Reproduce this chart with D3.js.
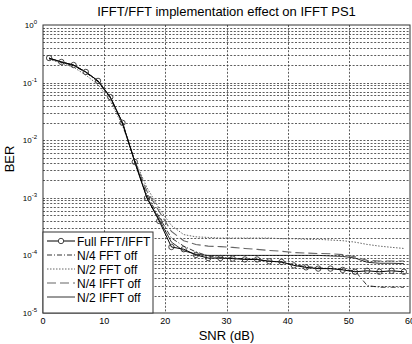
<!DOCTYPE html>
<html>
<head>
<meta charset="utf-8">
<script src="https://cdn.jsdelivr.net/npm/d3@7"></script>
<style>
  body { margin: 0; background: #fff; }
  text { font-family: "Liberation Sans", Arial, sans-serif; }
</style>
</head>
<body>
<svg id="graph" width="412" height="344"></svg>
<script>
// SNR points (dB)
var snr = [1,3,5,7,9,11,13,15,17,19,21,23,25,27,29,31,33,35,37,39,41,43,45,47,49,51,53,55,57,59];

var fullFft = [0.267,0.228,0.202,0.153,0.107,0.056,0.020,0.0042,0.00099,3.96e-4,1.4e-4,1.28e-4,1.02e-4,9.0e-5,9.0e-5,8.8e-5,8.5e-5,8.5e-5,7.9e-5,7.7e-5,6.7e-5,6.2e-5,5.9e-5,5.9e-5,5.6e-5,5.2e-5,5.4e-5,5.2e-5,5.4e-5,5.2e-5];
var n4FftOff = [0.262,0.225,0.198,0.150,0.103,0.054,0.019,0.0043,0.0011,4.6e-4,2.0e-4,1.45e-4,1.15e-4,9.8e-5,9.3e-5,9.0e-5,8.7e-5,8.4e-5,8.0e-5,7.6e-5,6.9e-5,6.4e-5,6.1e-5,5.9e-5,5.7e-5,5.4e-5,3.0e-5,2.8e-5,2.8e-5,2.8e-5];
var n2FftOff = [0.255,0.218,0.185,0.135,0.092,0.048,0.018,0.0045,0.0015,6.5e-4,3.3e-4,2.3e-4,2.1e-4,2.05e-4,2.0e-4,2.0e-4,2.0e-4,2.0e-4,2.0e-4,1.95e-4,1.95e-4,1.9e-4,1.9e-4,1.85e-4,1.8e-4,1.7e-4,1.55e-4,1.45e-4,1.38e-4,1.32e-4];
var n4IfftOff = [0.265,0.227,0.200,0.152,0.106,0.056,0.020,0.0044,0.0013,5.8e-4,2.6e-4,1.8e-4,1.55e-4,1.45e-4,1.42e-4,1.38e-4,1.32e-4,1.27e-4,1.22e-4,1.18e-4,1.12e-4,1.1e-4,1.08e-4,1.07e-4,1.03e-4,9.5e-5,8.2e-5,8.0e-5,8.0e-5,8.0e-5];
var n2IfftOff = [0.266,0.228,0.201,0.153,0.107,0.056,0.020,0.0042,0.0010,4.2e-4,1.7e-4,1.2e-4,1.05e-4,1.0e-4,1.0e-4,1.0e-4,1.0e-4,1.0e-4,1.0e-4,1.0e-4,1.0e-4,1.0e-4,1.0e-4,9.8e-5,9.6e-5,9.0e-5,7.6e-5,7.3e-5,7.3e-5,7.2e-5];

var seriesNames = ["Full FFT/IFFT","N/4 FFT off","N/2 FFT off","N/4 IFFT off","N/2 IFFT off"];
var seriesData = [fullFft, n4FftOff, n2FftOff, n4IfftOff, n2IfftOff];

var xTicks = [0,10,20,30,40,50,60];
var yExps = [0,-1,-2,-3,-4,-5];

var titleText = "IFFT/FFT implementation effect on IFFT PS1";
var xLabel = "SNR (dB)";
var yLabel = "BER";

// line styles per series
var styles = [
  {stroke: "#000", dash: null, width: 1, marker: true},
  {stroke: "#000", dash: "5,2,1,2", width: 0.8, marker: false},
  {stroke: "#555", dash: "1.5,1.5", width: 0.9, marker: false},
  {stroke: "#666", dash: "9,4", width: 1.1, marker: false},
  {stroke: "#000", dash: null, width: 0.8, marker: false}
];

var margin = {top: 25, right: 2, bottom: 31, left: 43};
var width = 412 - margin.left - margin.right;
var height = 344 - margin.top - margin.bottom;

var svg = d3.select("#graph")
  .append("g")
  .attr("transform", "translate(" + margin.left + "," + margin.top + ")");

var xScale = d3.scaleLinear().domain([0, 60]).range([0, width]);
var yScale = d3.scaleLog().domain([1e-5, 1]).range([height, 0]);

// grid
var minorVals = [];
for (var e = -5; e < 0; e++) {
  for (var m = 2; m <= 9; m++) minorVals.push(m * Math.pow(10, e));
}
var gridY = minorVals.concat(yExps.slice(1, 5).map(function(d){ return Math.pow(10, d); }));
svg.selectAll(".hgrid").data(gridY).enter().append("line")
  .attr("x1", 0).attr("x2", width)
  .attr("y1", function(d){ return Math.round(yScale(d)) + 0.5; })
  .attr("y2", function(d){ return Math.round(yScale(d)) + 0.5; })
  .attr("stroke", "#333").attr("stroke-width", 0.8)
  .attr("stroke-dasharray", "2,1.6");
svg.selectAll(".vgrid").data(xTicks.slice(1, 6)).enter().append("line")
  .attr("y1", 0).attr("y2", height)
  .attr("x1", function(d){ return Math.round(xScale(d)) + 0.5; })
  .attr("x2", function(d){ return Math.round(xScale(d)) + 0.5; })
  .attr("stroke", "#333").attr("stroke-width", 0.8)
  .attr("stroke-dasharray", "2,1.6");

// box
svg.append("rect").attr("x", 0).attr("y", 0).attr("width", width).attr("height", height)
  .attr("fill", "none").attr("stroke", "#333").attr("stroke-width", 1);

// ticks
svg.selectAll(".xt").data(xTicks).enter().append("text")
  .attr("x", function(d){ return xScale(d); })
  .attr("y", height + 11)
  .attr("text-anchor", "middle")
  .attr("font-size", 9)
  .text(function(d){ return d; });

var yt = svg.selectAll(".yt").data(yExps).enter().append("text")
  .attr("x", -6)
  .attr("y", function(d){ return yScale(Math.pow(10, d)) + 3; })
  .attr("text-anchor", "end")
  .attr("font-size", 8);
yt.append("tspan").text("10");
yt.append("tspan").attr("dy", -4).attr("font-size", 6).text(function(d){ return d; });

// titles
svg.append("text").attr("x", width / 2).attr("y", -9)
  .attr("text-anchor", "middle").attr("font-size", 13).text(titleText);
svg.append("text").attr("x", width / 2).attr("y", height + 27)
  .attr("text-anchor", "middle").attr("font-size", 13).text(xLabel);
svg.append("text")
  .attr("transform", "translate(" + (-29) + "," + (height / 2 - 10) + ") rotate(-90)")
  .attr("text-anchor", "middle").attr("font-size", 13).text(yLabel);

// lines
var line = d3.line()
  .x(function(d){ return xScale(d[0]); })
  .y(function(d){ return yScale(d[1]); });

var drawOrder = [4, 3, 2, 1, 0];
drawOrder.forEach(function(i){
  var pts = snr.map(function(s, j){ return [s, seriesData[i][j]]; });
  svg.append("path")
    .datum(pts)
    .attr("d", line)
    .attr("fill", "none")
    .attr("stroke", styles[i].stroke)
    .attr("stroke-width", styles[i].width)
    .attr("stroke-dasharray", styles[i].dash);
  if (styles[i].marker) {
    svg.selectAll(".mk" + i).data(pts).enter().append("circle")
      .attr("cx", line.x()).attr("cy", line.y())
      .attr("r", 2.7)
      .attr("fill", "none").attr("stroke", "#333").attr("stroke-width", 0.9);
  }
});

// legend
var lg = svg.append("g");
lg.append("rect").attr("x", 0).attr("y", 207).attr("width", 110).attr("height", height - 207)
  .attr("fill", "#fff").attr("stroke", "#333").attr("stroke-width", 1);
seriesNames.forEach(function(name, i){
  var yy = 216 + i * 14;
  lg.append("line").attr("x1", 4).attr("x2", 32).attr("y1", yy).attr("y2", yy)
    .attr("stroke", styles[i].stroke)
    .attr("stroke-width", styles[i].width)
    .attr("stroke-dasharray", styles[i].dash);
  if (styles[i].marker) {
    lg.append("circle").attr("cx", 18).attr("cy", yy).attr("r", 2.7)
      .attr("fill", "#fff").attr("stroke", "#333").attr("stroke-width", 0.9);
  }
  lg.append("text").attr("x", 34).attr("y", yy + 4.5)
    .attr("font-size", 12).text(name);
});
</script>
</body>
</html>
